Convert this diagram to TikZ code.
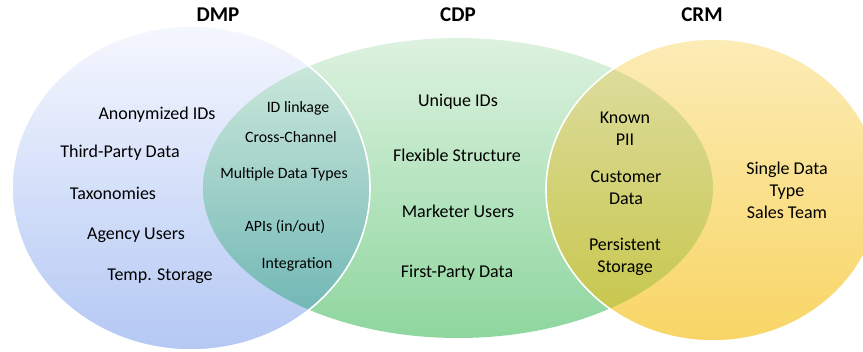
\documentclass[tikz,border=0pt]{standalone}
\usepackage{fontspec}
\setmainfont{Carlito}
\definecolor{dmpTop}{HTML}{F5F7FE}
\definecolor{dmpBot}{HTML}{B4C8F4}
\definecolor{cdpTop}{HTML}{DDF2E0}
\definecolor{cdpBot}{HTML}{8ED69E}
\definecolor{crmTop}{HTML}{FCECB6}
\definecolor{crmBot}{HTML}{F8D565}
\definecolor{lOneTop}{HTML}{CAE7DA}
\definecolor{lOneBot}{HTML}{72B8B6}
\definecolor{lTwoTop}{HTML}{DDDC9C}
\definecolor{lTwoBot}{HTML}{C7C74E}
\begin{document}
\begin{tikzpicture}[x=1pt,y=-1pt,
  title/.style={font=\fontsize{21}{25}\selectfont\bfseries, anchor=base, inner sep=0pt},
  big/.style={font=\fontsize{18}{22}\selectfont, anchor=base, align=center, inner sep=0pt},
  small/.style={font=\fontsize{15.8}{19}\selectfont, anchor=base, inner sep=0pt},
  rim/.style={draw=white, line width=1.6pt}]
\useasboundingbox (0,0) rectangle (863,352);
\def\dmp{(191,188) ellipse [x radius=179pt, y radius=162pt]}
\def\cdp{(458,188) ellipse [x radius=255pt, y radius=150pt]}
\def\crm{(713,190) ellipse [x radius=167pt, y radius=151pt]}
% main sets
\shade[top color=cdpTop, bottom color=cdpBot] \cdp;
\shade[top color=dmpTop, bottom color=dmpBot] \dmp;
\shade[top color=crmTop, bottom color=crmBot] \crm;
% lens DMP & CDP
\begin{scope}
  \clip \cdp;
  \clip \dmp;
  \shade[top color=lOneTop, bottom color=lOneBot] (200,66) rectangle (375,311);
\end{scope}
% lens CDP & CRM
\begin{scope}
  \clip \cdp;
  \clip \crm;
  \shade[top color=lTwoTop, bottom color=lTwoBot] (540,67) rectangle (716,310);
\end{scope}
\draw[rim] \dmp;
\draw[rim] \crm;
% titles
\node[title] (tdmp) at (218,22) {DMP};
\node[title] (tcdp) at (458,22) {CDP};
\node[title] (tcrm) at (702,22) {CRM};
% DMP only
\node[big] (d1) at (157,120) {Anonymized IDs};
\node[big] (d2) at (120,158) {Third-Party Data};
\node[big] (d3) at (113,200) {Taxonomies};
\node[big] (d4) at (136,240) {Agency Users};
\node[big] (d5) at (160,281) {Temp. Storage};
% DMP & CDP
\node[small] (l1) at (298,113) {ID linkage};
\node[small] (l2) at (291,143) {Cross-Channel};
\node[small] (l3) at (284,179) {Multiple Data Types};
\node[small] (l4) at (285,232) {APIs (in/out)};
\node[small] (l5) at (297,269) {Integration};
% CDP only
\node[big] (c1) at (458,107) {Unique IDs};
\node[big] (c2) at (457,162) {Flexible Structure};
\node[big] (c3) at (458,218) {Marketer Users};
\node[big] (c4) at (457,278) {First-Party Data};
% CDP & CRM (anchor base = last line)
\node[big] (k1) at (625,146) {Known\\PII};
\node[big] (k2) at (626,205) {Customer\\Data};
\node[big] (k3) at (625,273) {Persistent\\Storage};
% CRM only
\node[big] (r1) at (787,219) {Single Data\\Type\\Sales Team};
\end{tikzpicture}
\end{document}
